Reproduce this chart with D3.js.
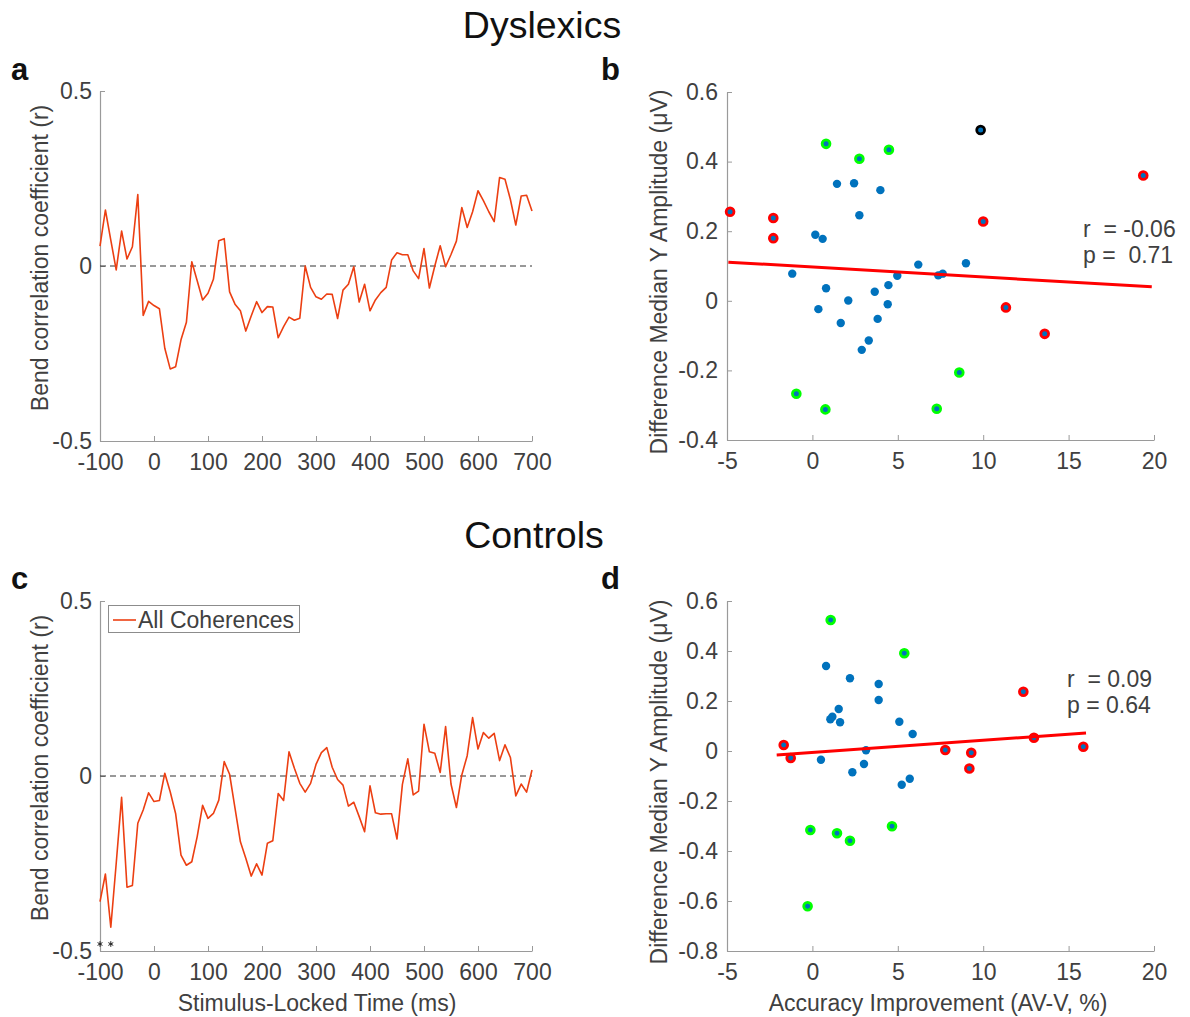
<!DOCTYPE html>
<html>
<head>
<meta charset="utf-8">
<script src="https://cdn.jsdelivr.net/npm/d3@7"></script>
<style>
  html, body { margin: 0; padding: 0; background: #fff; }
  svg { display: block; font-family: "Liberation Sans", Arial, Helvetica, sans-serif; }
</style>
</head>
<body>
<svg id="fig" width="1190" height="1017"></svg>
<script>
// ---- time-course data (ms, 10 ms steps) ----
const times = d3.range(-100, 701, 10);

const dyslexicR = [
  0.057, 0.160, 0.074, -0.011, 0.100, 0.020, 0.055, 0.204, -0.141, -0.101,
  -0.113, -0.122, -0.235, -0.294, -0.288, -0.211, -0.161, 0.012, -0.042, -0.097,
  -0.078, -0.038, 0.072, 0.078, -0.074, -0.109, -0.128, -0.186, -0.143, -0.102,
  -0.133, -0.116, -0.117, -0.205, -0.173, -0.146, -0.155, -0.149, 0.000, -0.061,
  -0.088, -0.095, -0.080, -0.081, -0.150, -0.069, -0.052, -0.002, -0.103, -0.052,
  -0.128, -0.097, -0.076, -0.061, 0.017, 0.038, 0.032, 0.032, -0.014, -0.036,
  0.050, -0.063, 0.000, 0.058, -0.002, 0.033, 0.071, 0.167, 0.110, 0.155,
  0.215, 0.187, 0.155, 0.127, 0.253, 0.248, 0.190, 0.117, 0.200, 0.202,
  0.157
];

const controlR = [
  -0.359, -0.280, -0.432, -0.250, -0.061, -0.318, -0.313, -0.135, -0.097, -0.048,
  -0.073, -0.070, 0.008, -0.045, -0.107, -0.226, -0.255, -0.245, -0.173, -0.084,
  -0.121, -0.107, -0.069, 0.041, 0.005, -0.092, -0.188, -0.235, -0.286, -0.251,
  -0.283, -0.192, -0.185, -0.050, -0.070, 0.069, 0.022, -0.021, -0.046, -0.021,
  0.033, 0.067, 0.081, 0.025, -0.010, -0.026, -0.086, -0.075, -0.116, -0.159,
  -0.028, -0.105, -0.109, -0.108, -0.108, -0.180, -0.024, 0.049, -0.054, -0.043,
  0.148, 0.069, 0.065, 0.010, 0.141, -0.023, -0.090, 0.003, 0.058, 0.167,
  0.077, 0.124, 0.108, 0.122, 0.044, 0.089, 0.053, -0.057, -0.023, -0.046,
  0.017
];

// significant time points (controls)
const sigTimes = [-100, -80];
const sigLevel = -0.48;

// ---- scatter data: accuracy improvement (%) vs amplitude difference (µV) ----
// group: "n" plain, "g" green ring, "r" red ring, "k" black ring
const dysX = [0.80, 2.75, 4.48, -0.94, 0.76, 7.28, 8.60,
  -4.82, -2.29, -2.29, 9.85, 19.37, 10.00, 11.33, 13.60,
  1.44, 2.44, 3.98, 2.75, 0.17, 0.60, -1.18, 0.80, 0.35, 2.10, 1.66, 3.65,
  4.45, 4.41, 3.82, 3.30, 2.89, 4.97, 6.20, 7.37, 7.63, 8.99];
const dysY = [0.451, 0.408, 0.434, -0.267, -0.312, -0.310, -0.206,
  0.256, 0.238, 0.180, 0.491, 0.360, 0.228, -0.019, -0.095,
  0.336, 0.338, 0.318, 0.246, 0.190, 0.178, 0.078, 0.036, -0.024, 0.001, -0.064, 0.026,
  0.045, -0.010, -0.052, -0.114, -0.141, 0.072, 0.104, 0.073, 0.078, 0.108];
const dysGroup = ["g","g","g","g","g","g","g",
  "r","r","r","k","r","r","r","r",
  "n","n","n","n","n","n","n","n","n","n","n","n",
  "n","n","n","n","n","n","n","n","n","n"];

const ctlX = [1.07, 5.38, -0.12, 1.44, 2.20, 4.66, -0.28,
  -1.68, -1.27, 7.78, 9.30, 9.19, 12.35, 12.97, 15.86,
  0.80, 2.20, 3.88, 3.88, 1.54, 1.17, 1.05, 1.62, 5.09, 5.87, 0.50, 3.14,
  3.02, 2.34, 5.23, 5.70];
const ctlY = [0.524, 0.391, -0.316, -0.329, -0.359, -0.301, -0.621,
  0.024, -0.028, 0.004, -0.007, -0.070, 0.237, 0.053, 0.017,
  0.340, 0.291, 0.268, 0.204, 0.168, 0.137, 0.127, 0.115, 0.117, 0.068, -0.035, 0.003,
  -0.052, -0.085, -0.135, -0.111];
const ctlGroup = ["g","g","g","g","g","g","g",
  "r","r","r","r","r","r","r","r",
  "n","n","n","n","n","n","n","n","n","n","n","n",
  "n","n","n","n"];

// robust fit lines: [slope, intercept, xStart, xEnd]
const dysFit = [-0.00286, 0.097, -4.92, 19.87];
const ctlFit = [0.00486, -0.0058, -2.09, 16.02];

const dysStats = ["r  = -0.06", "p =  0.71"];
const ctlStats = ["r  = 0.09", "p = 0.64"];

// ---- tick values ----
const timeTicks = [-100, 0, 100, 200, 300, 400, 500, 600, 700];
const rTicks = [-0.5, 0, 0.5];
const accTicks = [-5, 0, 5, 10, 15, 20];
const ampTicksB = [-0.4, -0.2, 0, 0.2, 0.4, 0.6];
const ampTicksD = [-0.8, -0.6, -0.4, -0.2, 0, 0.2, 0.4, 0.6];

// ---- styling ----
const textCol = "#404040";
const axisCol = "#9a9a9a";
const lineCol = "#EC3F12";
const dotBlue = "#0072BD";
const ringCol = { g: "#00FF00", r: "#FF0000", k: "#000000" };
const fs = 23;

const svg = d3.select("#fig");

function fmtTick(v) {
  if (v === 0) return "0";
  return String(v);
}

function styleAxis(g) {
  g.select(".domain").attr("stroke", axisCol).attr("stroke-width", 1.2);
  g.selectAll(".tick line").attr("stroke", axisCol).attr("stroke-width", 1);
  g.selectAll(".tick text").attr("fill", textCol).attr("font-size", fs)
    .attr("font-family", "Liberation Sans, Arial, sans-serif");
}

function drawAxes(x, y, xTicks, yTicks, yPad) {
  const xa = svg.append("g")
    .attr("transform", `translate(0,${y.range()[0]})`)
    .call(d3.axisBottom(x).tickValues(xTicks).tickFormat(fmtTick)
      .tickSizeInner(-5).tickSizeOuter(0).tickPadding(13));
  styleAxis(xa);
  const ya = svg.append("g")
    .attr("transform", `translate(${x.range()[0]},0)`)
    .call(d3.axisLeft(y).tickValues(yTicks).tickFormat(fmtTick)
      .tickSizeInner(-5).tickSizeOuter(0).tickPadding(yPad));
  styleAxis(ya);
}

function yLabel(text, xPos, yCenter) {
  svg.append("text")
    .attr("transform", `translate(${xPos},${yCenter}) rotate(-90)`)
    .attr("text-anchor", "middle")
    .attr("fill", textCol).attr("font-size", fs)
    .text(text);
}

function xLabel(text, xCenter, yPos) {
  svg.append("text")
    .attr("x", xCenter).attr("y", yPos)
    .attr("text-anchor", "middle")
    .attr("fill", textCol).attr("font-size", fs)
    .text(text);
}

function panelLetter(ch, x, y) {
  svg.append("text").attr("x", x).attr("y", y)
    .attr("font-size", 31).attr("font-weight", "bold").attr("fill", "#111")
    .text(ch);
}

function heading(text, x, y) {
  svg.append("text").attr("x", x).attr("y", y).attr("text-anchor", "middle")
    .attr("font-size", 37.5).attr("fill", "#111").text(text);
}

// ---- time-course panel ----
function timePanel(values, yTop, yBottom) {
  const x = d3.scaleLinear().domain([-100, 700]).range([100, 532]);
  const y = d3.scaleLinear().domain([-0.5, 0.5]).range([yBottom, yTop]);
  drawAxes(x, y, timeTicks, rTicks, 8);

  svg.append("line")
    .attr("x1", x(-100)).attr("x2", x(700))
    .attr("y1", y(0)).attr("y2", y(0))
    .attr("stroke", "#333").attr("stroke-width", 1)
    .attr("stroke-dasharray", "6,4");

  const line = d3.line().x((d, i) => x(times[i])).y(d => y(d));
  svg.append("path").datum(values)
    .attr("d", line).attr("fill", "none")
    .attr("stroke", lineCol).attr("stroke-width", 1.6)
    .attr("stroke-linejoin", "round");
  return { x, y };
}

// ---- scatter panel ----
function scatterPanel(xs, ys, groups, fit, stats, yDomain, yTop, yBottom, yTicks, statPos) {
  const x = d3.scaleLinear().domain([-5, 20]).range([727, 1154]);
  const y = d3.scaleLinear().domain(yDomain).range([yBottom, yTop]);
  drawAxes(x, y, accTicks, yTicks, 9);

  const pts = xs.map((v, i) => ({ x: v, y: ys[i], g: groups[i] }));
  const gDots = svg.append("g");
  gDots.selectAll("circle.plain").data(pts.filter(p => p.g === "n"))
    .join("circle").attr("class", "plain")
    .attr("cx", d => x(d.x)).attr("cy", d => y(d.y)).attr("r", 4.2)
    .attr("fill", dotBlue);
  gDots.selectAll("circle.ring").data(pts.filter(p => p.g !== "n"))
    .join("circle").attr("class", "ring")
    .attr("cx", d => x(d.x)).attr("cy", d => y(d.y)).attr("r", 3.9)
    .attr("fill", dotBlue).attr("stroke", d => ringCol[d.g]).attr("stroke-width", 2.8);

  const [m, b, x0, x1] = fit;
  svg.append("line")
    .attr("x1", x(x0)).attr("y1", y(m * x0 + b))
    .attr("x2", x(x1)).attr("y2", y(m * x1 + b))
    .attr("stroke", "#FF0000").attr("stroke-width", 3);

  stats.forEach((s, i) => {
    svg.append("text")
      .attr("x", statPos[0]).attr("y", statPos[1] + i * 25.5)
      .attr("fill", textCol).attr("font-size", fs)
      .style("white-space", "pre").attr("xml:space", "preserve")
      .text(s);
  });
}

// headings and panel letters
heading("Dyslexics", 542, 38);
heading("Controls", 534, 548);
panelLetter("a", 11, 80);
panelLetter("b", 601, 80);
panelLetter("c", 11, 589);
panelLetter("d", 601, 589);

// panel a
timePanel(dyslexicR, 91, 441);
yLabel("Bend correlation coefficient (r)", 48, 258);

// panel c
const pc = timePanel(controlR, 601, 951);
yLabel("Bend correlation coefficient (r)", 48, 768);
xLabel("Stimulus-Locked Time (ms)", 317, 1011);

// significance markers
svg.append("g").selectAll("path").data(sigTimes).join("path")
  .attr("transform", t => `translate(${pc.x(t)},${pc.y(sigLevel)})`)
  .attr("d", d3.symbol(d3.symbolAsterisk, 22))
  .attr("fill", "none").attr("stroke", "#222").attr("stroke-width", 1);

// legend
const leg = svg.append("g");
leg.append("rect").attr("x", 108.5).attr("y", 605.5).attr("width", 191).attr("height", 27)
  .attr("fill", "#fff").attr("stroke", "#8c8c8c").attr("stroke-width", 1);
leg.append("line").attr("x1", 113).attr("x2", 136).attr("y1", 620).attr("y2", 620)
  .attr("stroke", lineCol).attr("stroke-width", 1.6);
leg.append("text").attr("x", 138).attr("y", 627.5)
  .attr("fill", textCol).attr("font-size", fs).text("All Coherences");

// panel b
scatterPanel(dysX, dysY, dysGroup, dysFit, dysStats, [-0.4, 0.6], 92, 440, ampTicksB, [1083, 237]);
yLabel("Difference Median Y Amplitude (\u03bcV)", 667, 272);

// panel d
scatterPanel(ctlX, ctlY, ctlGroup, ctlFit, ctlStats, [-0.8, 0.6], 601, 951, ampTicksD, [1067, 687]);
yLabel("Difference Median Y Amplitude (\u03bcV)", 667, 782);
xLabel("Accuracy Improvement (AV-V, %)", 938, 1011);
</script>
</body>
</html>
